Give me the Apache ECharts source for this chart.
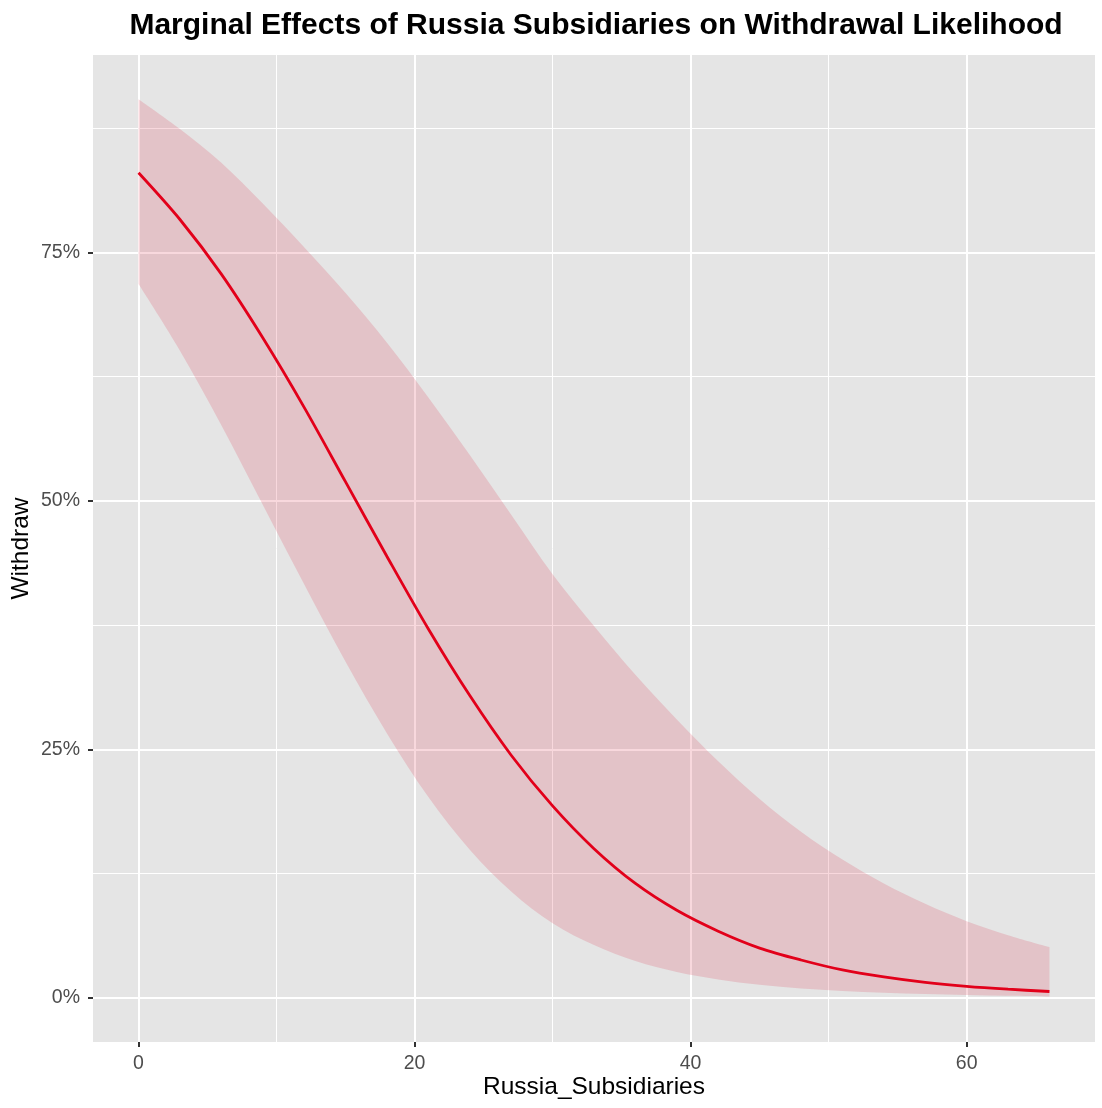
<!DOCTYPE html>
<html lang="en" style="height: 100%">
<head>
    <meta charset="UTF-8">
    <title>Marginal Effects of Russia Subsidiaries on Withdrawal Likelihood</title>
</head>
<body style="height: 100%; margin: 0; background: #fff">
<div id="container" style="width: 1102px; height: 1108px"></div>
<script src="https://cdn.jsdelivr.net/npm/echarts@6/dist/echarts.min.js"></script>
<script>
    // values (Withdraw in %)
    var subsidiaries = [0, 3, 6, 9, 12, 15, 18, 21, 24, 27, 30, 33, 36, 39, 42, 45, 48, 51, 54, 57, 60, 63, 66];
    var fitted = [83.0, 78.3, 72.8, 66.4, 59.4, 51.9, 44.4, 37.1, 30.4, 24.4, 19.3, 15.0, 11.5, 8.8, 6.7, 5.0, 3.8, 2.8, 2.1, 1.55, 1.15, 0.86, 0.63];
    var upperCI = [90.4, 87.4, 84.0, 79.9, 75.5, 70.9, 65.9, 60.4, 54.6, 48.6, 42.6, 37.4, 32.5, 28.0, 23.8, 20.0, 16.7, 13.9, 11.5, 9.45, 7.7, 6.3, 5.1];
    var lowerCI = [71.8, 65.1, 57.6, 49.6, 41.6, 33.8, 26.6, 20.2, 14.9, 10.7, 7.5, 5.3, 3.7, 2.6, 1.85, 1.3, 0.92, 0.67, 0.5, 0.38, 0.28, 0.2, 0.13];

    var xMajor = [0, 20, 40, 60];
    var xMinor = [10, 30, 50];
    var yMajor = [0, 25, 50, 75];
    var yMinor = [12.5, 37.5, 62.5, 87.5];

    var font = 'Liberation Sans';

    var fitData = [];
    for (var i = 0; i < subsidiaries.length; i++) {
        fitData.push([subsidiaries[i], fitted[i]]);
    }

    // catmull-rom style bezier through pixel points
    function curvePath(p, first) {
        var d = first ? 'M' + p[0][0] + ' ' + p[0][1] : 'L' + p[0][0] + ' ' + p[0][1];
        for (var k = 0; k < p.length - 1; k++) {
            var a = p[k - 1] || p[k], b = p[k], c = p[k + 1], e = p[k + 2] || p[k + 1];
            var c1x = b[0] + (c[0] - a[0]) / 6, c1y = b[1] + (c[1] - a[1]) / 6;
            var c2x = c[0] - (e[0] - b[0]) / 6, c2y = c[1] - (e[1] - b[1]) / 6;
            d += ' C' + c1x + ' ' + c1y + ' ' + c2x + ' ' + c2y + ' ' + c[0] + ' ' + c[1];
        }
        return d;
    }

    // ribbon: upper edge left to right, then lower edge back
    function renderBand(params, api) {
        if (params.dataIndex !== 0) return;
        var up = [], low = [];
        for (var i = 0; i < subsidiaries.length; i++) {
            up.push(api.coord([subsidiaries[i], upperCI[i]]));
        }
        for (var j = subsidiaries.length - 1; j >= 0; j--) {
            low.push(api.coord([subsidiaries[j], lowerCI[j]]));
        }
        return {
            type: 'path',
            shape: {pathData: curvePath(up, true) + ' ' + curvePath(low, false) + ' Z'},
            style: {fill: 'rgba(220, 60, 85, 0.2)'}
        };
    }

    var chart = echarts.init(document.getElementById('container'));

    var xRange = {min: -3.3, max: 69.3};
    var yRange = {min: -4.45, max: 94.85};

    var option = {
        animation: false,
        backgroundColor: '#ffffff',
        title: {
            text: 'Marginal Effects of Russia Subsidiaries on Withdrawal Likelihood',
            left: 591,
            top: 6,
            textAlign: 'center',
            textStyle: {fontFamily: font, fontSize: 30, fontWeight: 'bold', color: '#000'}
        },
        grid: {
            left: 93, top: 55, right: 7, bottom: 66,
            containLabel: false, outerBoundsMode: 'none',
            show: true, backgroundColor: '#E5E5E5', borderWidth: 0
        },
        xAxis: [{
            type: 'value', min: xRange.min, max: xRange.max, position: 'bottom',
            name: 'Russia_Subsidiaries', nameLocation: 'middle', nameGap: 33, nameMoveOverlap: false,
            nameTextStyle: {fontFamily: font, fontSize: 24.5, color: '#000'},
            axisLine: {show: false, onZero: false},
            axisTick: {show: true, length: 5, customValues: xMajor, lineStyle: {color: '#333', width: 2}},
            axisLabel: {customValues: xMajor, margin: 12, fontFamily: font, fontSize: 19.5, color: '#4D4D4D'},
            splitLine: {show: true, lineStyle: {color: '#fff', width: 2}}
        }, {
            type: 'value', min: xRange.min, max: xRange.max, position: 'bottom',
            axisLine: {show: false, onZero: false},
            axisTick: {show: false, customValues: xMinor},
            axisLabel: {show: false, customValues: xMinor},
            splitLine: {show: true, lineStyle: {color: '#fff', width: 1}}
        }],
        yAxis: [{
            type: 'value', min: yRange.min, max: yRange.max, position: 'left',
            name: 'Withdraw', nameLocation: 'middle', nameGap: 59, nameRotate: 90, nameMoveOverlap: false,
            nameTextStyle: {fontFamily: font, fontSize: 24.5, color: '#000'},
            axisLine: {show: false, onZero: false},
            axisTick: {show: true, length: 5, customValues: yMajor, lineStyle: {color: '#333', width: 2}},
            axisLabel: {
                customValues: yMajor, margin: 13, fontFamily: font, fontSize: 19.5, color: '#4D4D4D',
                formatter: function (v) { return v + '%'; }
            },
            splitLine: {show: true, lineStyle: {color: '#fff', width: 2}}
        }, {
            type: 'value', min: yRange.min, max: yRange.max, position: 'left',
            axisLine: {show: false, onZero: false},
            axisTick: {show: false, customValues: yMinor},
            axisLabel: {show: false, customValues: yMinor},
            splitLine: {show: true, lineStyle: {color: '#fff', width: 1}}
        }],
        series: [{
            name: 'band', type: 'custom', data: fitData,
            xAxisIndex: 0, yAxisIndex: 0,
            encode: {x: 0, y: 1},
            renderItem: renderBand, silent: true, z: 3
        }, {
            name: 'fit', type: 'line', data: fitData,
            xAxisIndex: 0, yAxisIndex: 0,
            smooth: 0.3, showSymbol: false, z: 5,
            lineStyle: {color: '#E2001A', width: 2.8}
        }]
    };

    chart.setOption(option);
</script>
</body>
</html>
